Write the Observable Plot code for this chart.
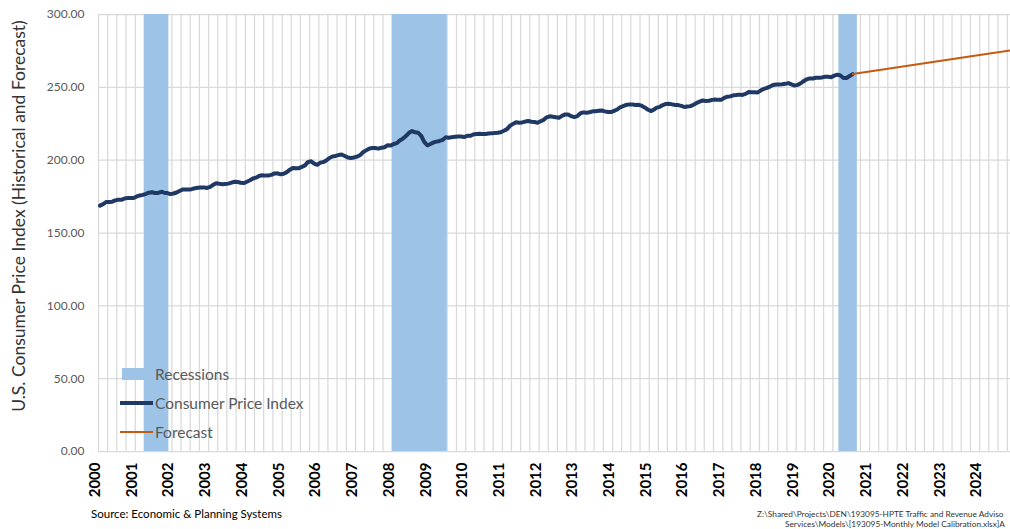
<!DOCTYPE html>
<html><head><meta charset="utf-8">
<script src="https://cdn.jsdelivr.net/npm/d3@7"></script>
<script src="https://cdn.jsdelivr.net/npm/@observablehq/plot@0.6"></script>
<style>
body{margin:0;background:#fff;font-family:Lato,sans-serif;overflow:hidden;}
#wrap{position:relative;width:1010px;height:529px;overflow:hidden;background:#fff;}
#chart{position:absolute;left:0;top:0;width:1016px;}
#chart svg{max-width:none !important;}
.ylabel{position:absolute;left:18px;top:216px;transform:translate(-50%,-50%) rotate(-90deg);white-space:nowrap;font-size:17.5px;color:#333;}
#legend{position:absolute;left:120px;top:362px;font-size:15.5px;color:#595959;}
#legend .row{position:absolute;left:0;height:20px;width:220px;}
#legend .sw{position:absolute;left:0;}
#legend .lab{position:absolute;left:35px;top:0;line-height:20px;white-space:nowrap;}
.source{position:absolute;left:91px;top:507px;font-size:11.5px;color:#000;white-space:nowrap;}
.path1{position:absolute;left:757px;top:509px;font-size:8.3px;color:#333;white-space:nowrap;}
.path2{position:absolute;left:785px;top:519px;font-size:8.3px;color:#333;white-space:nowrap;}
</style></head><body>
<div id="wrap">
  <div id="chart"></div>
  <div class="ylabel">U.S. Consumer Price Index (Historical and Forecast)</div>
  <div id="legend"></div>
  <div class="source">Source: Economic &amp; Planning Systems</div>
  <div class="path1">Z:\Shared\Projects\DEN\193095-HPTE Traffic and Revenue Adviso</div>
  <div class="path2">Services\Models\[193095-Monthly Model Calibration.xlsx]A</div>
</div>
<script>
// ---- data ----
const years = d3.range(2000, 2025);                 // x tick labels
const yTicks = [0, 50, 100, 150, 200, 250, 300];    // y tick labels
const cpiStartYear = 2000;                          // monthly series starts Jan 2000
const cpiMonthly = [
 168.8,169.8,171.2,171.3,171.5,172.4,172.8,172.8,173.7,174.0,174.1,174.0,
 175.1,175.8,176.2,176.9,177.7,178.0,177.5,177.5,178.3,177.7,177.4,176.7,
 177.1,177.8,178.8,179.8,179.8,179.9,180.1,180.7,181.0,181.3,181.3,180.9,
 181.7,183.1,184.2,183.8,183.5,183.7,183.9,184.6,185.2,185.0,184.5,184.3,
 185.2,186.2,187.4,188.0,189.1,189.7,189.4,189.5,189.9,190.9,191.0,190.3,
 190.7,191.8,193.3,194.6,194.4,194.5,195.4,196.4,198.8,199.2,197.6,196.8,
 198.3,198.7,199.8,201.5,202.5,202.9,203.5,203.9,202.9,201.8,201.5,201.8,
 202.4,203.5,205.4,206.7,207.9,208.4,208.3,207.9,208.5,208.9,210.2,210.0,
 211.1,211.7,213.5,214.8,216.6,218.8,220.0,219.1,218.8,216.6,212.4,210.2,
 211.1,212.2,212.7,213.2,213.9,215.7,215.4,215.8,216.0,216.2,216.3,215.9,
 216.7,216.7,217.6,218.0,218.2,218.0,218.0,218.3,218.4,218.7,218.8,219.2,
 220.2,221.3,223.5,224.9,226.0,225.7,225.9,226.5,226.9,226.4,226.2,225.7,
 226.7,227.7,229.4,230.1,229.8,229.5,229.1,230.4,231.4,231.3,230.2,229.6,
 230.3,232.2,232.8,232.5,232.9,233.5,233.6,233.9,234.1,233.5,233.1,233.0,
 233.9,234.8,236.3,237.1,237.9,238.3,238.3,237.9,238.0,237.4,236.2,234.8,
 233.7,234.7,236.1,236.6,237.8,238.6,238.7,238.3,237.9,237.8,237.3,236.5,
 236.9,237.1,238.1,239.3,240.2,241.0,240.6,240.8,241.4,241.7,241.4,241.4,
 242.8,243.6,243.8,244.5,244.7,245.0,244.8,245.5,246.8,246.7,246.7,246.5,
 247.9,249.0,249.6,250.5,251.6,252.0,252.0,252.1,252.4,252.9,252.0,251.2,
 251.7,252.8,254.2,255.5,256.1,256.1,256.6,256.6,256.8,257.3,257.2,257.0,
 258.0,258.7,258.1,256.4,256.4,257.8,259.1
];
const forecastMonths = ["2020-07","2021-01","2022-01","2023-01","2024-01","2024-12"];
const forecastValues = [259.1, 261.0, 264.8, 268.6, 272.4, 275.8];
const recessionStart = ["2001-04","2008-01","2020-03"];
const recessionEnd   = ["2001-11","2009-06","2020-08"];
const legendItems = ["Recessions","Consumer Price Index","Forecast"];
const colors = {recession:"#9dc3e6", cpi:"#1f3864", forecast:"#c55a11", grid:"#d9d9d9"};

// ---- build tables ----
const mid = s => { const [y,m] = s.split("-").map(Number); return new Date(Date.UTC(y, m-1, 16)); };
const startOf = s => { const [y,m] = s.split("-").map(Number); return new Date(Date.UTC(y, m-1, 1)); };
const endOf = s => { const [y,m] = s.split("-").map(Number); return new Date(Date.UTC(y, m, 1)); };
const cpi = cpiMonthly.map((v,i) => ({date: new Date(Date.UTC(cpiStartYear, i, 16)), value: v}));
const forecast = forecastMonths.map((m,i) => ({date: mid(m), value: forecastValues[i]}));
const recessions = recessionStart.map((s,i) => ({start: startOf(s), end: endOf(recessionEnd[i])}));
const x0 = new Date(Date.UTC(2000,0,1)), x1 = new Date(Date.UTC(2025,0,1));
const gridMonths = d3.utcMonth.every(3).range(x0, new Date(Date.UTC(2025,0,2)));
const yearDates = years.map(y => new Date(Date.UTC(y, 0, 16)));

const chart = Plot.plot({
  width: 1016, height: 506,
  marginLeft: 98, marginRight: 0, marginTop: 14, marginBottom: 55,
  style: {fontFamily: "Lato, sans-serif", background: "white", maxWidth: "none"},
  x: {type: "utc", domain: [x0, x1], axis: null},
  y: {domain: [0, 300], axis: null},
  marks: [
    Plot.ruleX(gridMonths, {stroke: colors.grid, strokeWidth: 1.25}),
    Plot.ruleY(yTicks, {stroke: colors.grid, strokeWidth: 1.25}),
    Plot.rect(recessions, {x1: "start", x2: "end", y1: () => 0, y2: () => 300, fill: colors.recession}),
    Plot.line(cpi, {x: "date", y: "value", stroke: colors.cpi, strokeWidth: 4, strokeLinejoin: "round", strokeLinecap: "round"}),
    Plot.line(forecast, {x: "date", y: "value", stroke: colors.forecast, strokeWidth: 2}),
    Plot.axisY(yTicks, {tickSize: 0, tickPadding: 14, tickFormat: d => d.toFixed(2), fontSize: 12, color: "#595959", label: null}),
    Plot.text(yearDates, {x: d => d, frameAnchor: "bottom", text: d => String(d.getUTCFullYear()), rotate: -90, textAnchor: "end", dy: 11, fontWeight: "bold", fontSize: 15, fill: "#000"})
  ]
});
chart.style.maxWidth = "none";
document.getElementById("chart").appendChild(chart);

// ---- legend (HTML overlay) ----
const legend = d3.select("#legend");
const rowsTop = [2, 31, 60];
legendItems.forEach((name, i) => {
  const row = legend.append("div").attr("class", "row").style("top", rowsTop[i] + "px");
  if (i === 0) {
    row.append("div").attr("class", "sw").style("left","2px").style("top","4px").style("width","23px").style("height","12px").style("background", colors.recession);
  } else {
    row.append("div").attr("class", "sw").style("top", (i === 1 ? 8 : 9) + "px").style("width","33px")
      .style("height", (i === 1 ? 4 : 2) + "px").style("background", i === 1 ? colors.cpi : colors.forecast);
  }
  row.append("div").attr("class", "lab").text(name);
});
</script>
</body></html>
